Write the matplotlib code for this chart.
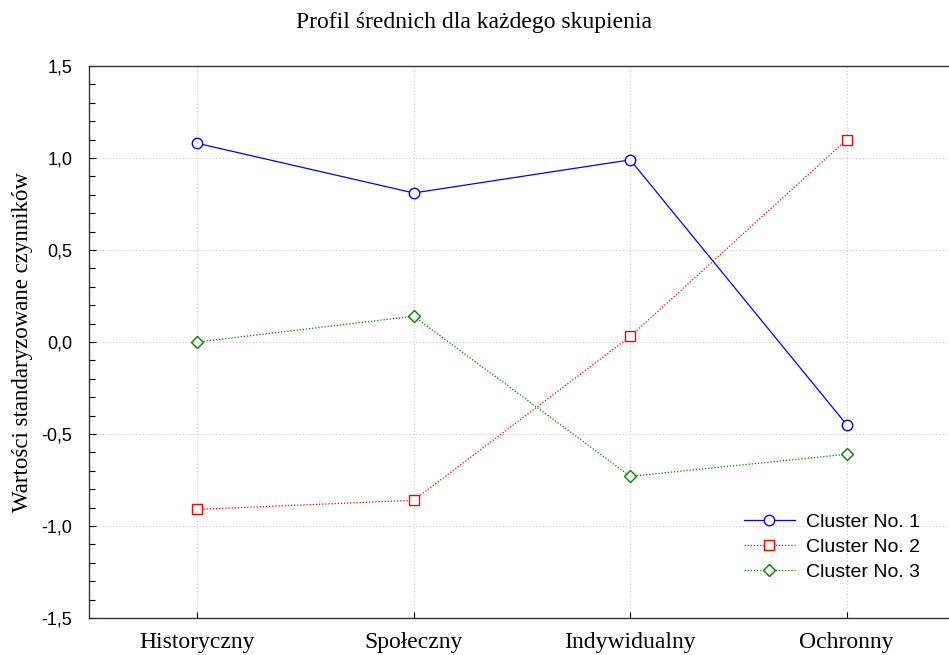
import numpy as np
import matplotlib.pyplot as plt
from matplotlib.ticker import MultipleLocator, FuncFormatter

# Data
categories = ['Historyczny', 'Społeczny', 'Indywidualny', 'Ochronny']
cluster1 = [1.08, 0.81, 0.99, -0.45]
cluster2 = [-0.91, -0.86, 0.03, 1.10]
cluster3 = [0.00, 0.14, -0.73, -0.61]
labels = ['Cluster No. 1', 'Cluster No. 2', 'Cluster No. 3']

serif = 'Liberation Serif'
sans = 'Liberation Sans'

fig = plt.figure(figsize=(9.49, 6.55), dpi=100)
ax = fig.add_axes([89 / 949, 37 / 655, 866 / 949, 552 / 655])

x = np.arange(len(categories))
ax.plot(x, cluster1, color='blue', lw=0.9, ls='-', marker='o', ms=7.5,
        mfc='white', mec='blue', mew=1.0, label=labels[0])
ax.plot(x, cluster2, color='red', lw=0.9, ls=(0, (1, 1.5)), marker='s', ms=7.5,
        mfc='white', mec='red', mew=1.0, label=labels[1])
ax.plot(x, cluster3, color='green', lw=0.9, ls=(0, (1, 1.5)), marker='D', ms=6,
        mfc='white', mec='green', mew=1.0, label=labels[2])

ax.set_xlim(-0.5, len(categories) - 0.5)
ax.set_ylim(-1.5, 1.5)
ax.set_xticks(x)
ax.set_xticklabels(categories, fontfamily=serif, fontsize=17)
ax.yaxis.set_major_locator(MultipleLocator(0.5))
ax.yaxis.set_minor_locator(MultipleLocator(0.1))
ax.yaxis.set_major_formatter(FuncFormatter(lambda v, p: f'{v:.1f}'.replace('.', ',')))
for t in ax.get_yticklabels():
    t.set_fontfamily(sans)
    t.set_fontsize(13)

ax.tick_params(axis='y', which='major', direction='in', length=5, width=0.8, pad=12)
ax.tick_params(axis='y', which='minor', direction='in', length=4, width=0.8)
ax.tick_params(axis='x', direction='in', length=4, width=0.8, pad=10)

ax.grid(True, which='major', color='#c8c8c8', ls=(0, (1, 2)), lw=0.8)
for s in ['left', 'bottom', 'top']:
    ax.spines[s].set_linewidth(1.0)
    ax.spines[s].set_color('#333333')

ax.set_ylabel('Wartości standaryzowane czynników', fontfamily=serif, fontsize=16.5, labelpad=6)
fig.text(0.5, 0.965, 'Profil średnich dla każdego skupienia', ha='center', va='center',
         fontfamily=serif, fontsize=17)

leg = ax.legend(loc='lower right', bbox_to_anchor=(0.98, 0.035), frameon=False,
                prop={'family': sans, 'size': 14}, handlelength=2.6,
                labelspacing=0.38, handletextpad=0.6)

fig.savefig('out.png', dpi=100)
